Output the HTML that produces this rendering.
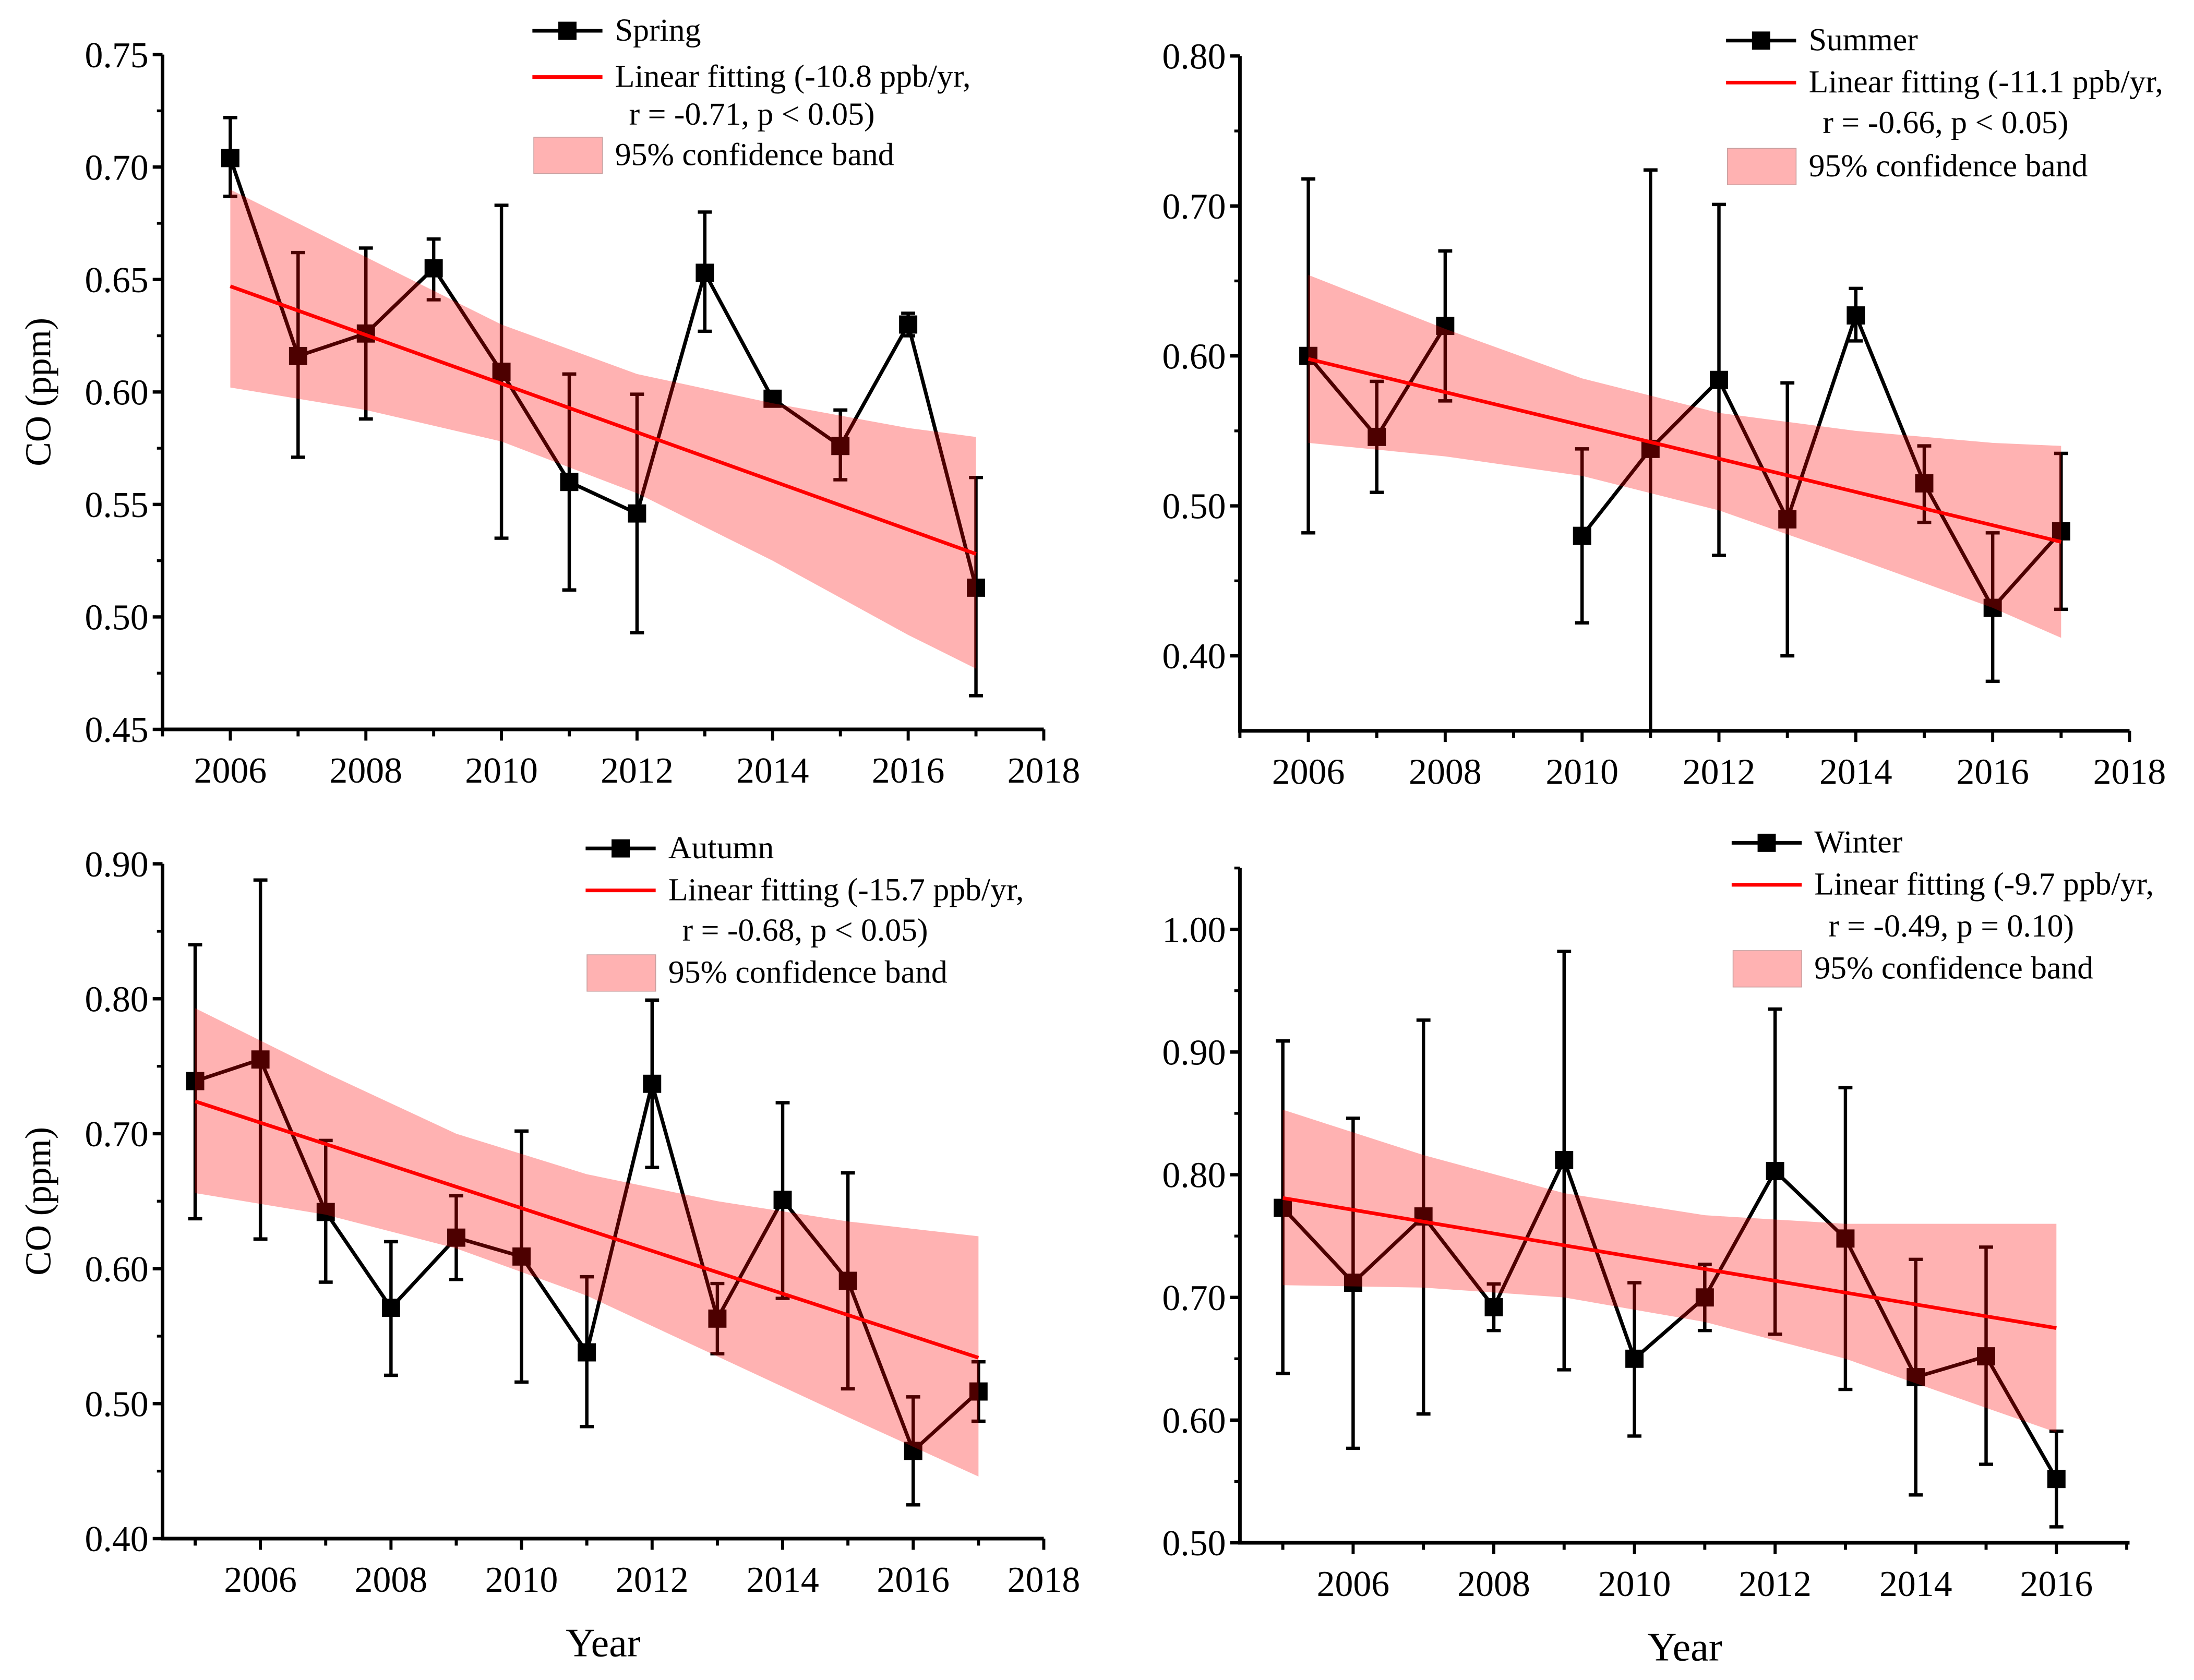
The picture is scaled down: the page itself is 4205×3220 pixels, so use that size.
<!DOCTYPE html>
<html><head><meta charset="utf-8"><style>
html,body{margin:0;padding:0;background:#fff;}
svg{display:block;}
svg text{font-family:"Liberation Serif","Times New Roman",serif;fill:#000;}
</style></head>
<body>
<svg id="fig" width="4205" height="3220" viewBox="0 0 1566 1200" preserveAspectRatio="none" xmlns="http://www.w3.org/2000/svg"></svg>
<script>
const NS="http://www.w3.org/2000/svg";
// ---- Spring ----
const springYears=[2006,2007,2008,2009,2010,2011,2012,2013,2014,2015,2016,2017];
const springVals=[0.704,0.616,0.626,0.655,0.609,0.560,0.546,0.653,0.597,0.576,0.630,0.513];
const springLo=[0.687,0.571,0.588,0.641,0.535,0.512,0.493,0.627,0.594,0.561,0.625,0.465];
const springHi=[0.722,0.662,0.664,0.668,0.683,0.608,0.599,0.680,0.600,0.592,0.635,0.562];
const springFit=[[2006,0.647],[2017,0.528]];
const springBandYears=[2006,2008,2010,2012,2014,2016,2017];
const springBandHi=[0.690,0.660,0.630,0.608,0.595,0.584,0.580];
const springBandLo=[0.602,0.592,0.578,0.555,0.525,0.492,0.477];
// ---- Summer ----
const summerYears=[2006,2007,2008,null,2010,2011,2012,2013,2014,2015,2016,2017];
const summerVals=[0.600,0.546,0.620,null,0.480,0.538,0.584,0.491,0.627,0.515,0.432,0.483];
const summerLo=[0.482,0.509,0.570,null,0.422,0.350,0.467,0.400,0.610,0.489,0.383,0.431];
const summerHi=[0.718,0.583,0.670,null,0.538,0.724,0.701,0.582,0.645,0.540,0.482,0.535];
const summerFit=[[2006,0.598],[2017,0.476]];
const summerBandYears=[2006,2008,2010,2012,2014,2016,2017];
const summerBandHi=[0.654,0.618,0.585,0.562,0.550,0.542,0.540];
const summerBandLo=[0.542,0.533,0.520,0.497,0.465,0.432,0.412];
// ---- Autumn ----
const autumnYears=[2005,2006,2007,2008,2009,2010,2011,2012,2013,2014,2015,2016,2017];
const autumnVals=[0.739,0.755,0.642,0.571,0.623,0.609,0.538,0.737,0.563,0.651,0.591,0.465,0.509];
const autumnLo=[0.637,0.622,0.590,0.521,0.592,0.516,0.483,0.675,0.537,0.578,0.511,0.425,0.487];
const autumnHi=[0.840,0.888,0.695,0.620,0.654,0.702,0.594,0.799,0.589,0.723,0.671,0.505,0.531];
const autumnFit=[[2005,0.724],[2017,0.534]];
const autumnBandYears=[2005,2007,2009,2011,2013,2015,2017];
const autumnBandHi=[0.793,0.745,0.700,0.670,0.650,0.635,0.624];
const autumnBandLo=[0.656,0.640,0.615,0.580,0.535,0.490,0.446];
// ---- Winter ----
const winterYears=[2005,2006,2007,2008,2009,2010,2011,2012,2013,2014,2015,2016];
const winterVals=[0.773,0.712,0.766,0.692,0.812,0.650,0.700,0.803,0.748,0.635,0.652,0.552];
const winterLo=[0.638,0.577,0.605,0.673,0.641,0.587,0.673,0.670,0.625,0.539,0.564,0.513];
const winterHi=[0.909,0.846,0.926,0.711,0.982,0.712,0.727,0.935,0.871,0.731,0.741,0.591];
const winterFit=[[2005,0.781],[2016,0.675]];
const winterBandYears=[2005,2007,2009,2011,2013,2015,2016];
const winterBandHi=[0.853,0.816,0.785,0.767,0.760,0.760,0.760];
const winterBandLo=[0.710,0.708,0.700,0.680,0.650,0.610,0.590];
// tick labels
const springYTicks=["0.45","0.50","0.55","0.60","0.65","0.70","0.75"];
const summerYTicks=["0.40","0.50","0.60","0.70","0.80"];
const autumnYTicks=["0.40","0.50","0.60","0.70","0.80","0.90"];
const winterYTicks=["0.50","0.60","0.70","0.80","0.90","1.00"];
const xTicksA=["2006","2008","2010","2012","2014","2016","2018"];
const xTicksB=["2006","2008","2010","2012","2014","2016"];

const svg=document.getElementById('fig');
function el(tag,attrs,parent){const e=document.createElementNS(NS,tag);for(const k in attrs)e.setAttribute(k,attrs[k]);(parent||svg).appendChild(e);return e;}

function panel(cfg){
  const g=el('g',{});
  
  
  const X=v=>cfg.x0+(v-cfg.xd0)*(cfg.x1-cfg.x0)/(cfg.xd1-cfg.xd0);
  const Y=v=>cfg.y0+(v-cfg.yd0)*(cfg.y1-cfg.y0)/(cfg.yd1-cfg.yd0);
  let segs=[],cur=[];
  cfg.years.forEach((yr,i)=>{if(yr===null){if(cur.length)segs.push(cur);cur=[];}else cur.push(X(yr)+','+Y(cfg.vals[i]));});
  if(cur.length)segs.push(cur);
  segs.forEach(s=>{const p=el('polyline',{points:s.join(' '),fill:'none',stroke:'#000','stroke-width':2.6,'stroke-linejoin':'round'},g);
    
    });
  cfg.years.forEach((yr,i)=>{if(yr===null)return;
    const x=X(yr);
    const eb=el('path',{d:`M${x},${Y(cfg.lo[i])}V${Y(cfg.hi[i])}M${x-5},${Y(cfg.lo[i])}H${x+5}M${x-5},${Y(cfg.hi[i])}H${x+5}`,stroke:'#000','stroke-width':2.4,fill:'none'},g);
    
    
    const m=el('rect',{x:x-6.5,y:Y(cfg.vals[i])-6.5,width:13,height:13,fill:'#000'},g);
    
    
  });
  const up=cfg.bY.map((yr,i)=>X(yr)+','+Y(cfg.bHi[i]));
  const dn=cfg.bY.map((yr,i)=>X(yr)+','+Y(cfg.bLo[i])).reverse();
  const band=el('polygon',{points:up.concat(dn).join(' '),fill:'rgba(255,0,0,0.3)'},g);
  
  
  const fit=el('line',{x1:X(cfg.fit[0][0]),y1:Y(cfg.fit[0][1]),x2:X(cfg.fit[1][0]),y2:Y(cfg.fit[1][1]),stroke:'#f00','stroke-width':2.6},g);
  
  
  const ax=el('path',{d:`M${cfg.x0},${cfg.yTop}V${cfg.y0}H${cfg.xEnd}`,stroke:'#000','stroke-width':2.6,fill:'none'},g);
  
  
  cfg.yt.forEach(t=>{const y=Y(parseFloat(t));
    el('line',{x1:cfg.x0-7,y1:y,x2:cfg.x0,y2:y,stroke:'#000','stroke-width':2.4},g);
    const tx=el('text',{x:cfg.x0-10,y:y+9,'text-anchor':'end','font-size':26},g);tx.textContent=t;
    
    
    const ym=Y(parseFloat(t)+cfg.ystep/2);
    if(ym>=cfg.yTop-1)el('line',{x1:cfg.x0-4,y1:ym,x2:cfg.x0,y2:ym,stroke:'#000','stroke-width':2},g);
  });
  for(let yr=cfg.xdMin;yr<=cfg.xdMax;yr++){const x=X(yr);const major=yr%2===0;
    el('line',{x1:x,y1:cfg.y0,x2:x,y2:cfg.y0+(major?8:5),stroke:'#000','stroke-width':2.2},g);}
  cfg.xt.forEach(t=>{const tx=el('text',{x:X(+t),y:cfg.y0+38,'text-anchor':'middle','font-size':26},g);tx.textContent=t;
    
    });
  const L=cfg.leg;
  const lg=el('g',{},g);
  
  
  el('line',{x1:L.x,y1:L.ys[0],x2:L.x+50,y2:L.ys[0],stroke:'#000','stroke-width':2.6},lg);
  el('rect',{x:L.x+18.5,y:L.ys[0]-6.5,width:13,height:13,fill:'#000'},lg);
  el('line',{x1:L.x,y1:L.ys[1],x2:L.x+50,y2:L.ys[1],stroke:'#f00','stroke-width':2.6},lg);
  el('rect',{x:L.x+1,y:L.ys[3]-13,width:49,height:26,fill:'#ffb2b2',stroke:'#c8a0a0','stroke-width':0.6},lg);
  const lines=[cfg.label,cfg.fitText,cfg.rText,'95% confidence band'];
  lines.forEach((s,i)=>{const tx=el('text',{x:L.x+59+(i===2?10:0),y:L.ys[i]+7,'font-size':23},lg);tx.textContent=s;
    
    });
  if(cfg.yLabel){const t=el('text',{x:0,y:0,transform:`translate(${cfg.x0-80},${(cfg.y0+cfg.yTop)/2}) rotate(-90)`,'text-anchor':'middle','font-size':26},g);t.textContent='CO (ppm)';
    
    }
  if(cfg.xLabel){const t=el('text',{x:(cfg.x0+cfg.xEnd)/2,y:cfg.y0+84,'text-anchor':'middle','font-size':29},g);t.textContent='Year';
    
    }
}

panel({name:'spring',x0:116,xEnd:745,xd0:2005,xd1:2018,x1:745,xdMin:2005,xdMax:2018,y0:521,yTop:39,yd0:0.45,yd1:0.75,y1:39,ystep:0.05,
  years:springYears,vals:springVals,lo:springLo,hi:springHi,fit:springFit,bY:springBandYears,bHi:springBandHi,bLo:springBandLo,
  yt:springYTicks,xt:xTicksA,label:'Spring',fitText:'Linear fitting (-10.8 ppb/yr,',rText:'r = -0.71, p < 0.05)',leg:{x:380,ys:[22,55,82,111]},yLabel:true});
panel({name:'summer',x0:885,xEnd:1520,xd0:2005,xd1:2018,x1:1520,xdMin:2005,xdMax:2018,y0:522,yTop:40,yd0:0.35,yd1:0.80,y1:40,ystep:0.1,
  years:summerYears,vals:summerVals,lo:summerLo,hi:summerHi,fit:summerFit,bY:summerBandYears,bHi:summerBandHi,bLo:summerBandLo,
  yt:summerYTicks,xt:xTicksA,label:'Summer',fitText:'Linear fitting (-11.1 ppb/yr,',rText:'r = -0.66, p < 0.05)',leg:{x:1232,ys:[29,59,88,119]}});
panel({name:'autumn',x0:116,xEnd:745,xd0:2004.5,xd1:2018,x1:745,xdMin:2005,xdMax:2018,y0:1099,yTop:617,yd0:0.40,yd1:0.90,y1:617,ystep:0.1,
  years:autumnYears,vals:autumnVals,lo:autumnLo,hi:autumnHi,fit:autumnFit,bY:autumnBandYears,bHi:autumnBandHi,bLo:autumnBandLo,
  yt:autumnYTicks,xt:xTicksA,label:'Autumn',fitText:'Linear fitting (-15.7 ppb/yr,',rText:'r = -0.68, p < 0.05)',leg:{x:418,ys:[606,636,665,695]},yLabel:true,xLabel:true});
panel({name:'winter',x0:885,xEnd:1520,xd0:2004.39,xd1:2017.04,x1:1520,xdMin:2005,xdMax:2017,y0:1102,yTop:620,yd0:0.50,yd1:1.05,y1:620,ystep:0.1,
  years:winterYears,vals:winterVals,lo:winterLo,hi:winterHi,fit:winterFit,bY:winterBandYears,bHi:winterBandHi,bLo:winterBandLo,
  yt:winterYTicks,xt:xTicksB,label:'Winter',fitText:'Linear fitting (-9.7 ppb/yr,',rText:'r = -0.49, p = 0.10)',leg:{x:1236,ys:[602,632,662,692]},xLabel:true});
</script>
</body></html>
